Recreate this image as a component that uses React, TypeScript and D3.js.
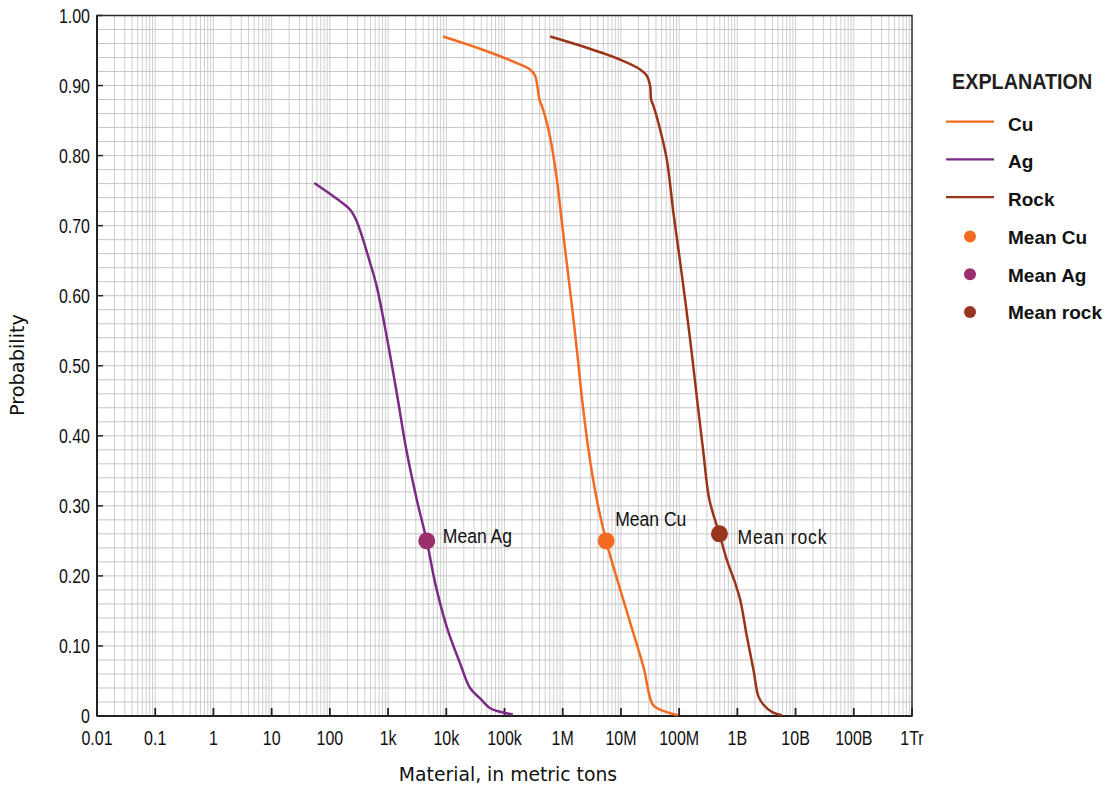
import React from "react";
import * as d3 from "d3";

// ---- Data (tons, probability) ----
const cuX = [8800, 50000, 163000, 275000, 336000, 367000, 398000, 438000, 533000, 650000, 793000, 957000, 1100000, 1400000, 1750000, 2160000, 2770000, 3850000, 5570000, 7430000, 13500000, 24400000, 35300000, 47200000, 95000000];
const cuP = [0.97, 0.949, 0.932, 0.923, 0.914, 0.899, 0.88, 0.871, 0.847, 0.813, 0.766, 0.709, 0.666, 0.594, 0.523, 0.451, 0.38, 0.309, 0.25, 0.213, 0.141, 0.07, 0.016, 0.009, 0.001];

const agX = [54, 150, 222, 290, 491, 640, 951, 1410, 2060, 3110, 4620, 6430, 10200, 17300, 25600, 38100, 56600, 83900, 139000];
const agP = [0.761, 0.735, 0.723, 0.706, 0.647, 0.613, 0.541, 0.461, 0.38, 0.309, 0.25, 0.19, 0.127, 0.075, 0.04, 0.025, 0.011, 0.006, 0.002];

const rockX = [608000, 2590000, 9680000, 21400000, 27900000, 31800000, 33000000, 36200000, 47200000, 61500000, 79800000, 97300000, 126800000, 162000000, 204000000, 258000000, 330000000, 492000000, 659000000, 916000000, 1120000000, 1460000000, 1890000000, 2300000000, 2810000000, 3910000000, 5810000000];
const rockP = [0.97, 0.954, 0.937, 0.923, 0.914, 0.899, 0.88, 0.871, 0.837, 0.794, 0.718, 0.666, 0.594, 0.523, 0.451, 0.38, 0.309, 0.26, 0.223, 0.19, 0.166, 0.113, 0.066, 0.028, 0.016, 0.006, 0.001];

const meanNames = ["Mean Ag", "Mean Cu", "Mean rock"];
const meanX = [4620, 5570000, 492000000];
const meanP = [0.25, 0.25, 0.26];

const xTickValues = [0.01, 0.1, 1, 10, 100, 1e3, 1e4, 1e5, 1e6, 1e7, 1e8, 1e9, 1e10, 1e11, 1e12];
const xTickLabels = ["0.01", "0.1", "1", "10", "100", "1k", "10k", "100k", "1M", "10M", "100M", "1B", "10B", "100B", "1Tr"];
const yTickValues = [0, 0.1, 0.2, 0.3, 0.4, 0.5, 0.6, 0.7, 0.8, 0.9, 1.0];
const yTickLabels = ["0", "0.10", "0.20", "0.30", "0.40", "0.50", "0.60", "0.70", "0.80", "0.90", "1.00"];

const legendLabels = ["Cu", "Ag", "Rock", "Mean Cu", "Mean Ag", "Mean rock"];

const C_CU = "#f36b21";
const C_AG = "#7b2a86";
const C_ROCK = "#9a3419";
const C_MEAN_CU = "#f36b21";
const C_MEAN_AG = "#9a2f6c";
const C_MEAN_ROCK = "#9a361d";

const W = 1112;
const H = 794;
const L = 97, R = 912, T = 15.5, B = 716;

const SANS = "'Liberation Sans', Arial, sans-serif";
const TITLE_FONT = "'DejaVu Sans', sans-serif";

function SText(props: {
  x: number; y: number; sx?: number; anchor?: "start" | "middle" | "end";
  size: number; weight?: string; family?: string; fill?: string; ls?: number; children: React.ReactNode;
}) {
  const { x, y, sx = 1, anchor = "start", size, weight = "normal", family = SANS, fill = "#111", ls = 0, children } = props;
  return (
    <text
      transform={`translate(${x},${y}) scale(${sx},1)`}
      textAnchor={anchor}
      fontFamily={family}
      fontSize={size}
      fontWeight={weight}
      fill={fill}
      letterSpacing={ls}
    >
      {children}
    </text>
  );
}

export default function App() {
  const x = d3.scaleLog().domain([0.01, 1e12]).range([L, R]);
  const y = d3.scaleLinear().domain([0, 1]).range([B, T]);

  const line = d3
    .line<[number, number]>()
    .x((d) => x(d[0]))
    .y((d) => y(d[1]))
    .curve(d3.curveCatmullRom.alpha(0.5));

  const zip = (xs: number[], ps: number[]) => xs.map((v, i) => [v, ps[i]] as [number, number]);

  const vGrid: number[] = [];
  for (let e = -2; e < 12; e++) {
    for (let k = 1; k <= 9; k++) {
      const v = k * Math.pow(10, e);
      if (v > 0.01) vGrid.push(v);
    }
  }
  const hGrid: number[] = d3.range(1, 50).map((i) => i * 0.02);

  const series = [
    { xs: cuX, ps: cuP, color: C_CU },
    { xs: agX, ps: agP, color: C_AG },
    { xs: rockX, ps: rockP, color: C_ROCK },
  ];
  const meanColors = [C_MEAN_AG, C_MEAN_CU, C_MEAN_ROCK];
  const meanLabelDx = [16, 9, 18];
  const meanLabelDy = [2, -15, 10];

  const legendColors = [C_CU, C_AG, C_ROCK, C_MEAN_CU, C_MEAN_AG, C_MEAN_ROCK];

  return (
    <svg
      width={W}
      height={H}
      style={{ position: "absolute", left: 0, top: 0, display: "block", background: "#fff" }}
    >
      {/* grid */}
      <g>
        {vGrid.map((v, i) => (
          <line key={"v" + i} x1={x(v)} x2={x(v)} y1={T} y2={B} stroke="#cfcfcf" strokeWidth={1} />
        ))}
        {hGrid.map((v, i) => (
          <line key={"h" + i} x1={L} x2={R} y1={y(v)} y2={y(v)} stroke="#c6c6c6" strokeWidth={1} />
        ))}
      </g>

      {/* frame */}
      <rect x={L} y={T} width={R - L} height={B - T} fill="none" stroke="#2a2a2a" strokeWidth={1.5} />
      <line x1={L} x2={R} y1={B} y2={B} stroke="#222" strokeWidth={2} />
      <line x1={L} x2={L} y1={T} y2={B} stroke="#222" strokeWidth={2} />

      {/* x ticks */}
      {xTickValues.map((v, i) => (
        <g key={"xt" + i}>
          <line x1={x(v)} x2={x(v)} y1={B} y2={B - 8} stroke="#222" strokeWidth={1.8} />
          <SText x={x(v)} y={B + 28.5} anchor="middle" size={20.5} sx={0.78}>
            {xTickLabels[i]}
          </SText>
        </g>
      ))}

      {/* y ticks */}
      {yTickValues.map((v, i) => (
        <g key={"yt" + i}>
          <line x1={L} x2={L + 6} y1={y(v)} y2={y(v)} stroke="#222" strokeWidth={1.5} />
          <SText x={90} y={y(v) + 7.3} anchor="end" size={20.5} sx={0.78}>
            {yTickLabels[i]}
          </SText>
        </g>
      ))}

      {/* axis titles */}
      <text x={508} y={781} textAnchor="middle" fontFamily={TITLE_FONT} fontSize={18.8} fill="#111">
        Material, in metric tons
      </text>
      <text
        transform={`translate(24, 365) rotate(-90)`}
        textAnchor="middle"
        fontFamily={TITLE_FONT}
        fontSize={19.3}
        fill="#111"
      >
        Probability
      </text>

      {/* curves */}
      {series.map((s, i) => (
        <path
          key={"s" + i}
          d={line(zip(s.xs, s.ps)) || ""}
          fill="none"
          stroke={s.color}
          strokeWidth={2.5}
          strokeLinejoin="round"
          strokeLinecap="butt"
        />
      ))}

      {/* means */}
      {meanX.map((v, i) => (
        <g key={"m" + i}>
          <circle cx={x(v)} cy={y(meanP[i])} r={8.5} fill={meanColors[i]} />
          <SText
            x={x(v) + meanLabelDx[i]}
            y={y(meanP[i]) + meanLabelDy[i]}
            size={19.5}
            sx={0.9}
            ls={i === 2 ? 1 : 0}
          >
            {meanNames[i]}
          </SText>
        </g>
      ))}

      {/* legend */}
      <g>
        <SText x={952} y={89} size={22} weight="bold" sx={0.9} fill="#231f20">
          EXPLANATION
        </SText>
        {legendLabels.map((lab, i) => {
          const base = 130.7 + i * 37.75;
          return (
            <g key={"lg" + i}>
              {i < 3 ? (
                <line x1={946} x2={994} y1={base - 9} y2={base - 9} stroke={legendColors[i]} strokeWidth={2.2} />
              ) : (
                <circle cx={970} cy={base - 7.5} r={6} fill={legendColors[i]} />
              )}
              <SText x={1008} y={base} size={19} weight="bold">
                {lab}
              </SText>
            </g>
          );
        })}
      </g>
    </svg>
  );
}
